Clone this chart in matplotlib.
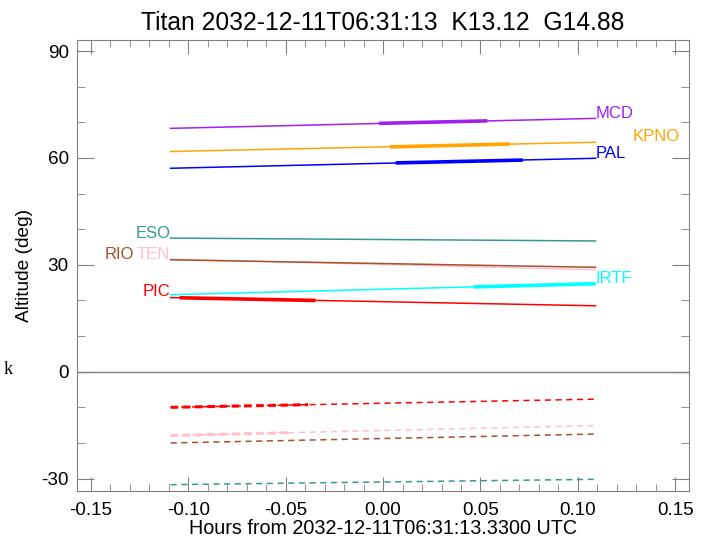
import matplotlib
matplotlib.use("Agg")
import matplotlib.pyplot as plt
from matplotlib.ticker import MultipleLocator

plt.rcParams['font.family'] = ['Liberation Sans', 'DejaVu Sans']
plt.rcParams['axes.unicode_minus'] = False

# time span of every track (hours from reference epoch)
t_span = [-0.109, 0.109]

# observatory altitude tracks: start / end altitude (deg)
obs_names = ['MCD', 'KPNO', 'PAL', 'ESO', 'TEN', 'RIO', 'IRTF', 'PIC']
obs_colors = ['#A020F0', '#FFA500', '#0000FF', '#359A8E',
              '#FFC0CB', '#A0522D', '#00FFFF', '#FF0000']
alt_start = [68.3, 61.8, 57.1, 37.5, 31.6, 31.4, 21.6, 20.8]
alt_end = [71.1, 64.4, 59.9, 36.7, 28.6, 29.3, 24.7, 18.5]

# thick (observable) portions: name, t0, t1, alt0, alt1
thick_segs = [
    ('MCD', -0.002, 0.0535, 69.7, 70.4),
    ('KPNO', 0.0036, 0.065, 63.1, 63.9),
    ('PAL', 0.0065, 0.0717, 58.6, 59.4),
    ('IRTF', 0.0464, 0.109, 23.8, 24.7),
    ('PIC', -0.1044, -0.0347, 20.75, 20.0),
]

# sun altitude (dashed) for the sites where it is above the plot floor
sun_names = ['PIC', 'TEN', 'RIO', 'ESO']
sun_start = [-10.0, -17.9, -20.0, -31.7]
sun_end = [-7.7, -15.1, -17.5, -30.2]
sun_thick = [('PIC', -0.0385, -9.26), ('TEN', -0.0466, -17.1)]

# label placement (x, y, alignment)
labels = {
    'MCD': (0.1092, 72.4, 'left'),
    'KPNO': (0.128, 66.0, 'left'),
    'PAL': (0.1092, 61.3, 'left'),
    'ESO': (-0.1092, 38.9, 'right'),
    'TEN': (-0.1092, 33.0, 'right'),
    'RIO': (-0.1278, 33.0, 'right'),
    'IRTF': (0.1092, 26.1, 'left'),
    'PIC': (-0.1092, 22.5, 'right'),
}

color_of = dict(zip(obs_names, obs_colors))

fig = plt.figure(figsize=(7.06, 5.39), dpi=100)
ax = fig.add_axes([0.1091, 0.0896, 0.8669, 0.8362])

ax.axhline(0, color='#808080', lw=1.0, zorder=1)

for name, a0, a1 in zip(obs_names, alt_start, alt_end):
    ax.plot(t_span, [a0, a1], '-', color=color_of[name], lw=1.1, zorder=3)

for name, t0, t1, a0, a1 in thick_segs:
    ax.plot([t0, t1], [a0, a1], '-', color=color_of[name], lw=2.6, zorder=4,
            solid_capstyle='butt')

for name, s0, s1 in zip(sun_names, sun_start, sun_end):
    ax.plot(t_span, [s0, s1], '--', color=color_of[name], lw=1.1,
            dashes=(4, 3), zorder=3)

for name, t1, s1 in sun_thick:
    s0 = sun_start[sun_names.index(name)]
    ax.plot([t_span[0], t1], [s0, s1], '--', color=color_of[name], lw=2.2,
            dashes=(2.5, 1.5), zorder=4)

for name, (x, y, ha) in labels.items():
    ax.text(x, y, name, color=color_of[name], fontsize=12, ha=ha, va='center')

ax.set_xlim(-0.157, 0.157)
ax.set_ylim(-33.4, 93.1)
ax.xaxis.set_major_locator(MultipleLocator(0.05))
ax.xaxis.set_minor_locator(MultipleLocator(0.01))
ax.yaxis.set_major_locator(MultipleLocator(30))
ax.yaxis.set_minor_locator(MultipleLocator(10))
ax.xaxis.set_major_formatter(plt.FuncFormatter(lambda v, p: '%.2f' % v))

for sp in ax.spines.values():
    sp.set_color('#808080')
ax.tick_params(which='both', direction='in', top=True, right=True,
               color='#808080', labelsize=13.6, labelcolor='black')
ax.tick_params(axis='x', which='major', length=10, pad=8)
ax.tick_params(axis='x', which='minor', length=5)
ax.tick_params(axis='y', which='major', length=12.5, pad=6)
ax.tick_params(axis='y', which='minor', length=6)

ax.set_xlabel('Hours from 2032-12-11T06:31:13.3300 UTC', fontsize=14.2, labelpad=0)
ax.set_ylabel('Altitude (deg)', fontsize=13.8)
ax.yaxis.set_label_coords(-0.072, 0.5)
ax.set_title('Titan 2032-12-11T06:31:13  K13.12  G14.88', fontsize=17.7, pad=7)

fig.text(0.012, (539 - 369) / 539, 'k', fontsize=13, family='Liberation Serif',
         ha='center', va='center')

fig.savefig('out.png', dpi=100)
plt.close(fig)
